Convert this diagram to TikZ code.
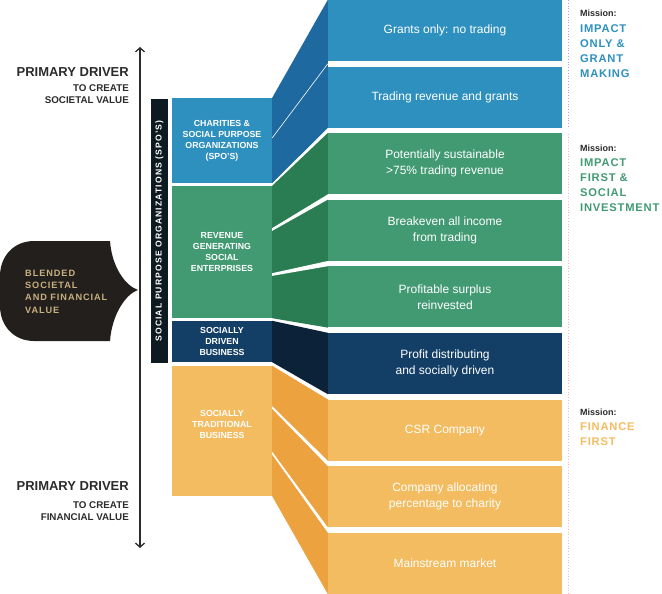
\documentclass[tikz,border=0pt]{standalone}
\usepackage{fontspec}
\setmainfont{Liberation Sans}
\usetikzlibrary{arrows.meta,calc}
\definecolor{blueL}{HTML}{2E90BF}
\definecolor{blueD}{HTML}{1E6AA0}
\definecolor{greenL}{HTML}{419A72}
\definecolor{greenD}{HTML}{2A7D52}
\definecolor{navyL}{HTML}{133F66}
\definecolor{navyD}{HTML}{0B2239}
\definecolor{orangeL}{HTML}{F3BC60}
\definecolor{orangeD}{HTML}{ECA23E}
\definecolor{barc}{HTML}{0E1A21}
\definecolor{blobc}{HTML}{231F1C}
\definecolor{goldc}{HTML}{C8B080}
\definecolor{inkc}{HTML}{2B2B2B}
\definecolor{dotblue}{HTML}{9AB0CC}
\definecolor{dotpink}{HTML}{F2B6B6}
\tikzset{
  row/.style={minimum width=234pt, minimum height=61pt, inner sep=0pt, text=white,
    align=center, font=\fontsize{12}{16}\selectfont},
  kind/.style={minimum width=100pt, inner sep=0pt, text=white, align=center,
    font=\bfseries\fontsize{8.8}{11}\selectfont},
  driver/.style={anchor=east, inner sep=0pt, text=inkc, font=\bfseries\fontsize{13}{15}\selectfont},
  drivesub/.style={anchor=east, inner sep=0pt, text=inkc, align=right, font=\bfseries\fontsize{9.8}{12}\selectfont},
  mlabel/.style={anchor=west, inner sep=0pt, text=inkc, font=\bfseries\fontsize{9}{11}\selectfont},
  mtitle/.style={anchor=west, inner sep=0pt, align=left,
    font=\bfseries\fontsize{11.2}{15}\selectfont\addfontfeature{LetterSpace=7}},
  wedge/.style={fill=white},
}
\begin{document}
\begin{tikzpicture}[x=1pt, y=-1pt]
  \useasboundingbox (0,0) rectangle (662,594);
  %
  \node[row, fill=blueL] (r1) at (445,30.5) {Grants only: no trading};        % right column
  \node[row, fill=blueL] (r2) at (445,97.1) {Trading revenue and grants};
  \node[row, fill=greenL] (r3) at (445,163.7) {Potentially sustainable\\>75\% trading revenue};
  \node[row, fill=greenL] (r4) at (445,230.3) {Breakeven all income\\from trading};
  \node[row, fill=greenL] (r5) at (445,296.9) {Profitable surplus\\reinvested};
  \node[row, fill=navyL] (r6) at (445,363.5) {Profit distributing\\and socially driven};
  \node[row, fill=orangeL] (r7) at (445,430.1) {CSR Company};
  \node[row, fill=orangeL] (r8) at (445,496.7) {Company allocating\\percentage to charity};
  \node[row, fill=orangeL] (r9) at (445,563.3) {Mainstream market};
  %
  \node[kind, fill=blueL, minimum height=85pt] (chr) at (222,140.5)
    {CHARITIES \&\\SOCIAL PURPOSE\\ORGANIZATIONS\\(SPO’S)};                    % left column
  \node[kind, fill=greenL, minimum height=132pt] (rev) at (222,252)
    {REVENUE\\GENERATING\\SOCIAL\\ENTERPRISES};
  \node[kind, fill=navyL, minimum height=41pt] (drv) at (222,341.5)
    {SOCIALLY\\DRIVEN\\BUSINESS};
  \node[kind, fill=orangeL, minimum height=130pt] (trd) at (222,431) {};
  \node[kind] (trdtext) at (222,424.5) {SOCIALLY\\TRADITIONAL\\BUSINESS};
  %
  \fill[blueD] (chr.north east) -- (r1.north west) -- (r2.south west) -- (chr.south east) -- cycle;
  \fill[greenD] (rev.north east) -- (r3.north west) -- (r5.south west) -- (rev.south east) -- cycle;
  \fill[navyD] (drv.north east) -- (r6.north west) -- (r6.south west) -- (drv.south east) -- cycle;
  \fill[orangeD] (trd.north east) -- (r7.north west) -- (r9.south west) -- (trd.south east) -- cycle;
  %
  \draw[white, line width=0.6pt] ($(chr.north east)!0.47!(chr.south east)$)
    -- ($(r1.south west)!0.5!(r2.north west)$);                               % splits
  \fill[wedge] ($(rev.north east)!0.32!(rev.south east)$) -- (r3.south west)
    -- (r4.north west) -- ($(rev.north east)!0.34!(rev.south east)$) -- cycle;
  \fill[wedge] ($(rev.north east)!0.66!(rev.south east)$) -- (r4.south west)
    -- (r5.north west) -- ($(rev.north east)!0.68!(rev.south east)$) -- cycle;
  \fill[wedge] ($(trd.north east)!0.31!(trd.south east)$) -- (r7.south west)
    -- (r8.north west) -- ($(trd.north east)!0.33!(trd.south east)$) -- cycle;
  \fill[wedge] ($(trd.north east)!0.66!(trd.south east)$) -- (r8.south west)
    -- (r9.north west) -- ($(trd.north east)!0.68!(trd.south east)$) -- cycle;
  %
  \node[rotate=90, fill=barc, minimum width=264pt, minimum height=17pt, inner sep=0pt,
    text=white, font=\bfseries\fontsize{8.6}{8}\selectfont\addfontfeature{LetterSpace=13}]
    (spo) at (159.5,231) {SOCIAL PURPOSE ORGANIZATIONS (SPO’S)};             % bar
  %
  \coordinate (up) at (140,47);                                                % axis
  \coordinate (down) at (140,548);
  \draw[inkc, line width=1.3pt, {Straight Barb[length=4pt,width=9pt]}-{Straight Barb[length=4pt,width=9pt]}]
    (down) -- (up);
  %
  \node[driver] (pd1) at (129,72) {PRIMARY DRIVER};
  \node[drivesub] (pd1sub) at (129,94) {TO CREATE\\SOCIETAL VALUE};
  \node[driver] (pd2) at (129,486) {PRIMARY DRIVER};
  \node[drivesub] (pd2sub) at (129,511) {TO CREATE\\FINANCIAL VALUE};
  %
  \fill[blobc] (110,241) .. controls (112,268) and (126,286) .. (138,290)
    .. controls (126,294) and (112,314) .. (110,341) -- (34,341)
    .. controls (14,341) and (0,326) .. (0,306) -- (0,276)
    .. controls (0,256) and (14,241) .. (34,241) -- cycle;                  % blob
  \node[anchor=west, inner sep=0pt, align=left, text=goldc,
    font=\bfseries\fontsize{9.2}{12.3}\selectfont\addfontfeature{LetterSpace=10}]
    (blend) at (25,291.5) {BLENDED\\SOCIETAL\\AND FINANCIAL\\VALUE};
  %
  \coordinate (d1top) at (568,0);                                              % dividers
  \coordinate (d1bot) at (568,128);
  \coordinate (d2top) at (568,134);
  \coordinate (d2bot) at (568,594);
  \draw[dotblue, dotted, line width=0.8pt] (d1top) -- (d1bot);
  \draw[dotpink, dotted, line width=0.8pt] (d2top) -- (d2bot);
  %
  \node[mlabel] (m1) at (580,13) {Mission:};                                  % missions
  \node[mtitle, text=blueL] (m1t) at (580,51) {IMPACT\\ONLY \&\\GRANT\\MAKING};
  \node[mlabel] (m2) at (580,148) {Mission:};
  \node[mtitle, text=greenL] (m2t) at (580,185) {IMPACT\\FIRST \&\\SOCIAL\\INVESTMENT};
  \node[mlabel] (m3) at (580,412) {Mission:};
  \node[mtitle, text=orangeL] (m3t) at (580,434.5) {FINANCE\\FIRST};
  %
\end{tikzpicture}
\end{document}
